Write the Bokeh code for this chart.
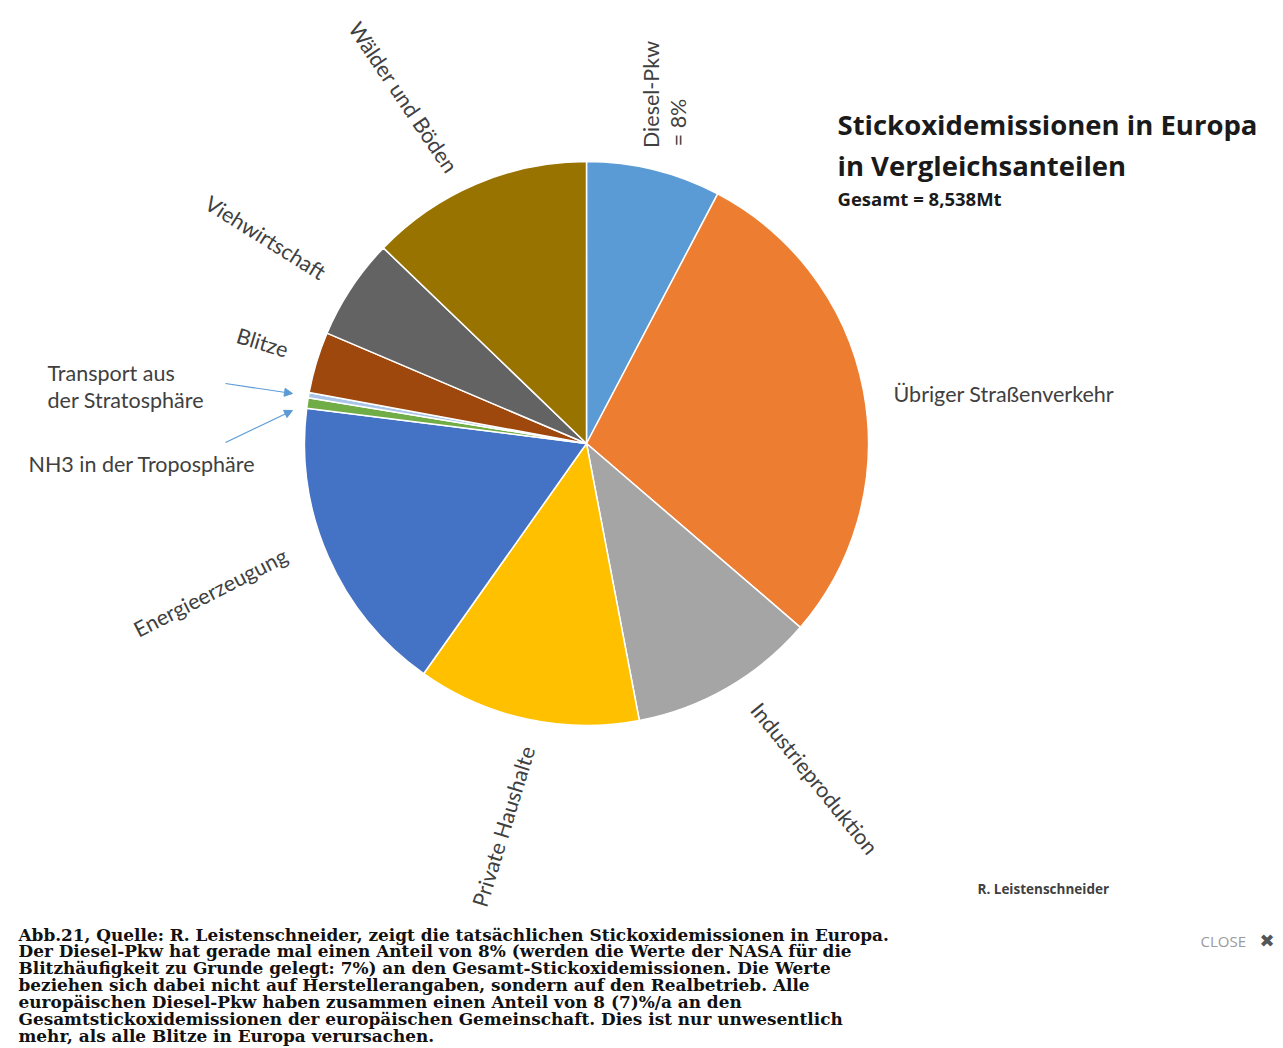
import math
from bokeh.plotting import figure
from bokeh.models import Range1d, Arrow, NormalHead, ColumnDataSource
from bokeh.core.properties import value
from bokeh.embed import file_html
from bokeh.resources import INLINE

# ---- data ----
categories = ["Diesel-Pkw", "Übriger Straßenverkehr", "Industrieproduktion",
              "Private Haushalte", "Energieerzeugung", "NH3 in der Troposphäre",
              "Transport aus der Stratosphäre", "Blitze", "Viehwirtschaft",
              "Wälder und Böden"]
shares = [7.7, 28.6, 10.7, 12.8, 17.2, 0.6, 0.3, 3.5, 5.8, 12.8]
colors = ["#5B9BD5", "#ED7D31", "#A5A5A5", "#FFC000", "#4472C4", "#70AD47",
          "#A9C6E8", "#9E480E", "#636363", "#997300"]

title_lines = ["Stickoxidemissionen in Europa", "in Vergleichsanteilen"]
subtitle = "Gesamt = 8,538Mt"
author = "R. Leistenschneider"
caption_lines = [
    "Abb.21, Quelle: R. Leistenschneider, zeigt die tatsächlichen Stickoxidemissionen in Europa.",
    "Der Diesel-Pkw hat gerade mal einen Anteil von 8% (werden die Werte der NASA für die",
    "Blitzhäufigkeit zu Grunde gelegt: 7%) an den Gesamt-Stickoxidemissionen. Die Werte",
    "beziehen sich dabei nicht auf Herstellerangaben, sondern auf den Realbetrieb. Alle",
    "europäischen Diesel-Pkw haben zusammen einen Anteil von 8 (7)%/a an den",
    "Gesamtstickoxidemissionen der europäischen Gemeinschaft. Dies ist nur unwesentlich",
    "mehr, als alle Blitze in Europa verursachen.",
]

H = 1048
def Y(y):
    return H - y

W_FIG, H_FIG = 1275, 1046
p = figure(width=W_FIG, height=H_FIG, output_backend="svg", toolbar_location=None,
           x_range=Range1d(0, W_FIG), y_range=Range1d(Y(H_FIG), Y(0)),
           min_border=0)
p.axis.visible = False
p.grid.visible = False
p.outline_line_color = None
p.background_fill_color = "white"

# ---- pie ----
cx, cy, r = 586, Y(443), 282
total = sum(shares)
starts, ends = [], []
cum = 0.0
for s in shares:
    starts.append(math.pi / 2 - 2 * math.pi * cum / total)
    cum += s
    ends.append(math.pi / 2 - 2 * math.pi * cum / total)
src = ColumnDataSource(dict(x=[cx] * len(shares), y=[cy] * len(shares),
                            start=starts, end=ends, color=colors, cat=categories))
p.wedge(x="x", y="y", radius=r, start_angle="start", end_angle="end",
        direction="clock", fill_color="color", line_color="white", line_width=1.5,
        source=src)

lab_font = value("Lato")
lab_color = "#404040"

def label(x, y, txt, angle=0.0, size="21.5px", align="left", baseline="middle"):
    p.text(x=[x], y=[Y(y)], text=[txt], angle=math.radians(angle),
           text_font=lab_font, text_font_size=size, text_color=lab_color,
           text_align=align, text_baseline=baseline)

# category labels
label(650, 94, "Diesel-Pkw", angle=90, align="center")
label(677, 122, "= 8%", angle=90, align="center")
label(403, 97, "Wälder und Böden", angle=-56, align="center")
label(265, 237, "Viehwirtschaft", angle=-32, align="center")
label(262, 342, "Blitze", angle=-17, align="center")
label(893, 393, "Übriger Straßenverkehr")
label(814, 778, "Industrieproduktion", angle=-51, align="center")
label(503, 826, "Private Haushalte", angle=73, align="center")
label(210, 592, "Energieerzeugung", angle=27, align="center")
label(47, 372, "Transport aus")
label(47, 399, "der Stratosphäre")
label(28, 463, "NH3 in der Troposphäre")

# arrows
for (x0, y0, x1, y1) in [(225, 383, 292, 393), (225, 442, 292, 410)]:
    p.add_layout(Arrow(end=NormalHead(size=8, fill_color="#5B9BD5", line_color="#5B9BD5"),
                       x_start=x0, y_start=Y(y0), x_end=x1, y_end=Y(y1),
                       line_color="#5B9BD5", line_width=1.2))

# title block
p.text(x=[837, 837], y=[Y(124), Y(165)], text=title_lines, text_font=value("Open Sans"),
       text_font_size="27.5px", text_font_style="bold", text_color="#1a1a1a",
       text_baseline="middle")
p.text(x=[837], y=[Y(198)], text=[subtitle], text_font=value("Open Sans"),
       text_font_size="18.5px", text_font_style="bold", text_color="#1a1a1a",
       text_baseline="middle")
p.text(x=[977], y=[Y(888)], text=[author], text_font=value("Open Sans"),
       text_font_size="13.5px", text_font_style="bold", text_color="#404040",
       text_baseline="middle")

# caption
cap_y = [934 + i * 16.9 for i in range(len(caption_lines))]
p.text(x=[18] * len(caption_lines), y=[Y(v) for v in cap_y], text=caption_lines,
       text_font=value("DejaVu Serif"), text_font_size="16.9px",
       text_font_style="bold", text_color="#111111", text_baseline="middle")

# close button
p.text(x=[1200], y=[Y(940)], text=["CLOSE"], text_font=value("Open Sans"),
       text_font_size="15px", text_color="#9a9a9a", text_baseline="middle")
p.text(x=[1259], y=[Y(940)], text=["✖"], text_font=value("DejaVu Sans"),
       text_font_size="18px", text_color="#555555", text_baseline="middle")

open("out.html", "w").write(file_html(p, INLINE))
